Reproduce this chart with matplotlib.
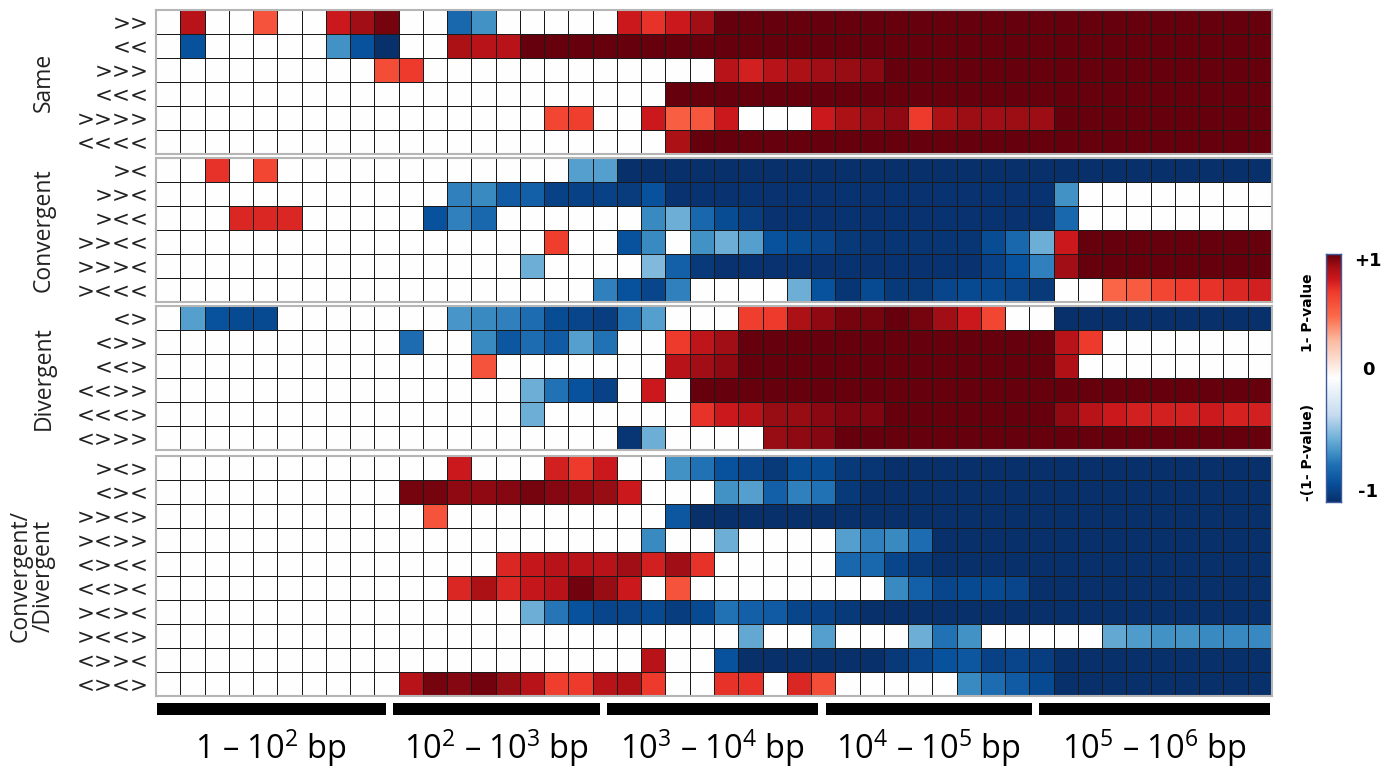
import numpy as np
import matplotlib
matplotlib.use('Agg')
import matplotlib.pyplot as plt
from matplotlib.colors import LinearSegmentedColormap

plt.rcParams['mathtext.fontset'] = 'custom'
plt.rcParams['mathtext.rm'] = 'Open Sans'
plt.rcParams['mathtext.it'] = 'Open Sans'

# ---------------- data ----------------
group_names = ['Same', 'Convergent', 'Divergent', 'Convergent/\n/Divergent']

same_labels = ['>>', '<<', '>>>', '<<<', '>>>>', '<<<<']
same_vals = [
    [0, .85, 0, 0, .6, 0, 0, .8, .9, .97, 0, 0, -.75, -.6, 0, 0, 0, 0, 0, .8, .72, .8, .9] + [1] * 23,
    [0, -.85, 0, 0, 0, 0, 0, -.6, -.85, -1, 0, 0, .88, .85, .85] + [1] * 31,
    [0] * 9 + [.62, .7] + [0] * 12 + [.85, .78, .85, .88, .9, .92, .94] + [1] * 16,
    [0] * 21 + [1] * 25,
    [0] * 16 + [.65, .68, 0, 0, .8, .55, .58, .8, 0, 0, 0, .8, .88, .92, .93, .7, .88, .91, .9, .91, .91] + [1] * 9,
    [0] * 21 + [.88] + [1] * 24,
]

conv_labels = ['><', '>><', '><<', '>><<', '>>><', '><<<']
conv_vals = [
    [0, 0, .72, 0, .65] + [0] * 12 + [-.55, -.55] + [-1] * 27,
    [0] * 12 + [-.65, -.62, -.8, -.78, -.92, -.92, -.92, -.94, -.85] + [-.98] * 16 + [-.6] + [0] * 8,
    [0, 0, 0, .75, .75, .75] + [0] * 5 + [-.85, -.65, -.75] + [0] * 6 + [-.62, -.5, -.75, -.87, -.93] + [-.98] * 12 + [-.75] + [0] * 8,
    [0] * 16 + [.68] + [0, 0] + [-.85, -.62, 0, -.6, -.5, -.55, -.85, -.87, -.9, -.95, -.97] + [-.97] * 4 + [-.87, -.75, -.5] + [.8] + [1] * 8,
    [0] * 15 + [-.5] + [0] * 4 + [-.45, -.78, -.95] + [-.98] * 11 + [-.92, -.85, -.65] + [.9] + [1] * 8,
    [0] * 18 + [-.65, -.85, -.9, -.65] + [0] * 4 + [-.5, -.85, -.97, -.88, -.95, -.95, -.9, -.88, -.88, -.9, -.95] + [0, 0] + [.52, .56, .65, .7, .72, .75, .78],
]

div_labels = ['<>', '<>>', '<<>', '<<>>', '<<<>', '<>>>']
div_vals = [
    [0, -.55, -.85, -.88, -.88] + [0] * 7 + [-.58, -.62, -.65, -.72, -.87, -.9, -.93, -.7, -.55] + [0, 0, 0] + [.68, .7, .88, .93, .97, .97, 1, .97, .9, .8, .65] + [0, 0] + [-1] * 9,
    [0] * 10 + [-.72] + [0, 0] + [-.62, -.82, -.72, -.8, -.55, -.7] + [0, 0] + [.7, .83, .9] + [1] * 13 + [.85, .7] + [0] * 7,
    [0] * 13 + [.6] + [0] * 7 + [.85, .9, .93] + [1] * 13 + [.87] + [0] * 8,
    [0] * 15 + [-.5, -.7, -.85, -.92] + [0] + [.8] + [0] + [1] * 24,
    [0] * 15 + [-.5] + [0] * 6 + [.72, .8, .85, .92, .92, .94, .96, .96] + [1] * 7 + [.93, .85, .8, .78, .78, .78, .79, .77, .78],
    [0] * 19 + [-.97, -.5] + [0] * 4 + [.92, .93, .95] + [1] * 18,
]

cd_labels = ['><>', '<><', '>><>', '><>>', '<><<', '<<><', '><><', '><<>', '<>><', '<><>']
cd_vals = [
    [0] * 12 + [.8, 0, 0, 0, .78, .7, .8, 0, 0] + [-.6, -.7, -.85, -.9, -.95, -.87, -.87, -.95, -.97] + [-1] * 16,
    [0] * 10 + [.97, .97, .93, .93, .95, .97, .95, .93, .92, .8] + [0, 0, 0] + [-.6, -.55, -.78, -.65, -.7, -.95] + [-1] * 17,
    [0] * 11 + [.6] + [0] * 9 + [-.82] + [-1] * 24,
    [0] * 20 + [-.62] + [0, 0] + [-.5] + [0] * 4 + [-.55, -.65, -.62, -.72] + [-1] * 14,
    [0] * 14 + [.75, .82, .85, .85, .85, .9, .78, .9, .72] + [0] * 5 + [-.75, -.75, -.9, -.95] + [-1] * 14,
    [0] * 12 + [.75, .88, .75, .82, .85, .98, .92, .8] + [0] + [.6] + [0] * 8 + [-.62, -.78, -.9, -.88, -.88, -.9] + [-1] * 10,
    [0] * 15 + [-.5, -.68, -.85, -.9, -.9, -.88, -.93, -.88, -.7, -.78, -.8, -.9, -.92, -.95] + [-1] * 17,
    [0] * 24 + [-.52] + [0, 0] + [-.55] + [0] * 3 + [-.5, -.7, -.6] + [0] * 5 + [-.52, -.57, -.6, -.6, -.62, -.63, -.63],
    [0] * 20 + [.85] + [0, 0] + [-.85] + [-1] * 6 + [-.95, -.9, -.85, -.82, -.92, -.9, -.93] + [-1] * 9,
    [0] * 10 + [.85, .97, .95, .98, .92, .85, .68, .7, .85, .87, .7] + [0, 0, .72, .72, 0, .75, .62] + [0] * 5 + [-.62, -.72, -.8, -.88] + [-1] * 9,
]

range_labels = ['1 – 10$^{2}$ bp', '10$^{2}$ – 10$^{3}$ bp', '10$^{3}$ – 10$^{4}$ bp',
                '10$^{4}$ – 10$^{5}$ bp', '10$^{5}$ – 10$^{6}$ bp']

# ---------------- layout ----------------
W, H = 1385, 771
fig = plt.figure(figsize=(W / 100, H / 100), dpi=100)


def fbox(x0, y0, x1, y1):
    return [x0 / W, 1 - y1 / H, (x1 - x0) / W, (y1 - y0) / H]


cmap = LinearSegmentedColormap.from_list('pv', [
    (0.0, '#08306b'), (0.075, '#08519c'), (0.15, '#2171b5'), (0.2, '#4292c6'),
    (0.25, '#6baed6'), (0.35, '#c6dbef'), (0.5, '#ffffff'), (0.65, '#fcbba1'),
    (0.75, '#fb6a4a'), (0.85, '#ef3b2c'), (0.9, '#cb181d'), (0.95, '#a50f15'),
    (1.0, '#67000d')])

X0, X1 = 156, 1272
ROW_H = 24
block_tops = [10, 158, 306, 456]
group_x = [44, 44, 44, 32]

blocks = [(same_labels, same_vals), (conv_labels, conv_vals),
          (div_labels, div_vals), (cd_labels, cd_vals)]

for (labels, vals), top, gname, gx in zip(blocks, block_tops, group_names, group_x):
    data = np.array(vals, dtype=float)
    nr, nc = data.shape
    ax = fig.add_axes(fbox(X0, top, X1, top + nr * ROW_H))
    ax.pcolormesh(np.arange(nc + 1), np.arange(nr + 1), data, cmap=cmap, vmin=-1, vmax=1,
                  edgecolors='#1a1a1a', linewidth=0.6)
    ax.set_xlim(0, nc)
    ax.set_ylim(nr, 0)
    ax.set_xticks([])
    ax.set_yticks(np.arange(nr) + 0.5)
    ax.set_yticklabels(labels, fontsize=15.5, family='DejaVu Sans', color='#222222')
    ax.tick_params(axis='y', length=0, pad=5)
    for s in ax.spines.values():
        s.set_color('#b5b5b5')
        s.set_linewidth(1.5)
    cy = top + nr * ROW_H / 2
    fig.text(gx / W, 1 - cy / H, gname, rotation=90, ha='center', va='center',
             multialignment='center', fontsize=16.5, family='Open Sans', color='#222222',
             linespacing=0.95)

# bottom range bars
bar_starts = [0.04, 9.77, 18.6, 27.6, 36.4]
bar_ends = [9.48, 18.3, 27.3, 36.1, 45.9]
axb = fig.add_axes(fbox(X0, 703, X1, 715))
for s0, s1 in zip(bar_starts, bar_ends):
    axb.barh(0.5, s1 - s0, left=s0, height=1, color='black')
axb.set_xlim(0, 46)
axb.set_ylim(0, 1)
axb.axis('off')
for s0, s1, lab in zip(bar_starts, bar_ends, range_labels):
    cx = X0 + (s0 + s1) / 2 * (X1 - X0) / 46
    fig.text(cx / W, 1 - 748 / H, lab, ha='center', va='center', fontsize=23.5,
             family='Open Sans', color='black')

# colorbar
axc = fig.add_axes(fbox(1326, 254, 1341, 502))
grad = np.linspace(1, -1, 256).reshape(-1, 1)
axc.imshow(grad, aspect='auto', cmap=cmap, vmin=-1, vmax=1, extent=[0, 1, -1, 1])
axc.set_xticks([])
axc.set_yticks([])
for s in axc.spines.values():
    s.set_color('#3a5a99')
    s.set_linewidth(1.0)

fig.text(1368 / W, 1 - 261 / H, '+1', ha='center', va='center', fontsize=13, fontweight='bold',
         family='DejaVu Sans')
fig.text(1368 / W, 1 - 370 / H, '0', ha='center', va='center', fontsize=13, fontweight='bold',
         family='DejaVu Sans')
fig.text(1368 / W, 1 - 492 / H, '-1', ha='center', va='center', fontsize=13, fontweight='bold',
         family='DejaVu Sans')
fig.text(1308 / W, 1 - 313 / H, '1- P-value', rotation=90, ha='center', va='center',
         fontsize=10, fontweight='bold', family='DejaVu Sans')
fig.text(1308 / W, 1 - 452 / H, '-(1- P-value)', rotation=90, ha='center', va='center',
         fontsize=10, fontweight='bold', family='DejaVu Sans')

fig.savefig('out.png', dpi=100)
